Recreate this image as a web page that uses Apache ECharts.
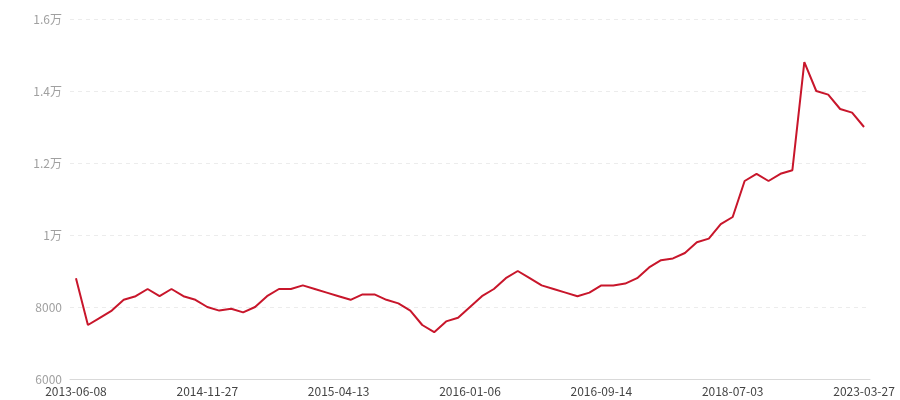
<!DOCTYPE html>
<html>
<head>
<meta charset="utf-8">
<script src="https://cdn.jsdelivr.net/npm/echarts@6/dist/echarts.min.js"></script>
<style>html,body{margin:0;padding:0;background:#fff}#c{width:900px;height:400px}</style>
</head>
<body>
<div id="c"></div>
<script>
var tickLabels = ['2013-06-08','2014-11-27','2015-04-13','2016-01-06','2016-09-14','2018-07-03','2023-03-27'];
var values = [8800,7500,7700,7900,8200,8300,8500,8300,8500,8300,8200,8000,7900,7950,7850,8000,8300,8500,8500,8600,8500,8400,8300,8200,8350,8350,8200,8100,7900,7500,7300,7600,7700,8000,8300,8500,8800,9000,8800,8600,8500,8400,8300,8400,8600,8600,8650,8800,9100,9300,9350,9500,9800,9900,10300,10500,11500,11700,11500,11700,11800,14800,14000,13900,13500,13400,13000];
var labelStep = 11;
var categories = values.map(function(v, i){ return (i % labelStep === 0) ? tickLabels[i / labelStep] : ' '.repeat(i % labelStep) + String(i); });
var chart = echarts.init(document.getElementById('c'));
chart.setOption({
  animation: false,
  textStyle: {fontFamily: '"Noto Sans CJK SC", "Noto Sans", sans-serif'},
  grid: {left: 70, right: 30, top: 19, bottom: 21},
  xAxis: {
    type: 'category',
    data: categories,
    boundaryGap: true,
    axisLine: {lineStyle: {color: '#d9d9d9'}},
    axisTick: {alignWithLabel: true, interval: labelStep - 1, lineStyle: {color: '#d9d9d9'}},
    axisLabel: {interval: labelStep - 1, color: '#444', fontSize: 12, margin: 6},
    splitLine: {show: false}
  },
  yAxis: {
    type: 'value',
    min: 6000, max: 16000, interval: 2000,
    axisLine: {show: false}, axisTick: {show: false},
    axisLabel: {color: '#a0a0a0', fontSize: 12, margin: 8,
      formatter: function(v){ return v >= 10000 ? (v / 10000) + '万' : String(v); }},
    splitLine: {lineStyle: {type: [4, 4], color: '#ececec'}}
  },
  series: [{
    type: 'line',
    data: values,
    showSymbol: false,
    symbol: 'none',
    lineStyle: {color: '#c8162b', width: 2},
    itemStyle: {color: '#c8162b'}
  }]
});
</script>
</body>
</html>
